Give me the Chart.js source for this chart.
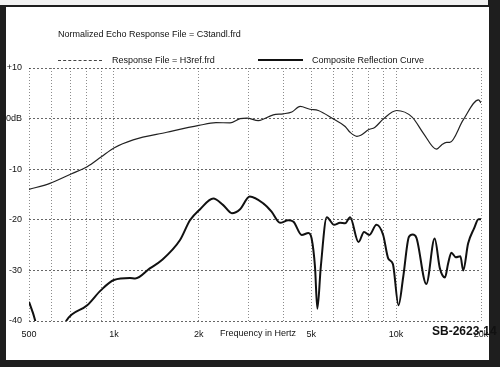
<!DOCTYPE html>
<html>
<head>
<meta charset="utf-8">
<script src="https://cdn.jsdelivr.net/npm/chart.js@4"></script>
<style>
  html, body { margin: 0; padding: 0; }
  body { width: 500px; height: 367px; background: #1e1e1e; position: relative; overflow: hidden; font-family: "Liberation Sans", Arial, sans-serif; }
  #topstrip { position: absolute; left: 0; top: 0; width: 488px; height: 5px; background: #f2f2f2; }
  #panel { position: absolute; left: 6px; top: 7px; width: 483px; height: 353px; background: #fff; }
  #chartwrap { position: absolute; left: 0; top: 0; width: 500px; height: 367px; }
  .txt { position: absolute; font-size: 9px; color: #111; white-space: nowrap; line-height: 10px; }
  .swatch { position: absolute; height: 0; }
</style>
</head>
<body>
<div id="topstrip"></div>
<div id="panel"></div>
<div id="chartwrap"><canvas id="plot" width="500" height="367"></canvas></div>
<div class="txt" style="left:58px; top:29px;">Normalized Echo Response File = C3tandl.frd</div>
<div class="swatch" style="left:58px; top:60px; width:44px; border-top:1px dashed #444;"></div>
<div class="txt" style="left:112px; top:55px;">Response File = H3ref.frd</div>
<div class="swatch" style="left:258px; top:59px; width:45px; border-top:2px solid #111;"></div>
<div class="txt" style="left:312px; top:55px;">Composite Reflection Curve</div>
<div class="txt" style="left:220px; top:328px;">Frequency in Hertz</div>
<div class="txt" style="left:432px; top:325px; font-size:12px; line-height:13px; font-family:'Liberation Sans Narrow', 'Liberation Sans', sans-serif; font-weight:bold;">SB-2623-14</div>
<script>
// Response File = H3ref.frd (thin line)
const responseFreq = [500, 593, 708, 804, 900, 1000, 1170, 1540, 2000, 2300, 2580, 2800, 2960, 3250, 3670, 3980, 4270, 4570, 4950, 5300, 6000, 6600, 6870, 7260, 7500, 7980, 8400, 9000, 10050, 11400, 12500, 13900, 14500, 15100, 15500, 17300, 19600, 20000];
const responseDb = [-14, -12.8, -10.9, -9.5, -7.6, -5.8, -4.2, -2.7, -1.35, -0.8, -0.85, 0, 0.1, -0.4, 0.75, 0.95, 1.3, 2.4, 1.85, 1.6, -0.1, -1.55, -2.7, -3.5, -3.3, -2.2, -1.75, -0.1, 1.6, 0.3, -2.9, -6.05, -5.2, -4.7, -4.7, -0.25, 3.7, 3.1];

// Composite Reflection Curve (thick line)
const compositeFreq = [500, 517, 540, 600, 650, 679, 804, 900, 1000, 1140, 1190, 1340, 1476, 1715, 1860, 2020, 2250, 2440, 2620, 2800, 3030, 3390, 3620, 3880, 4150, 4330, 4630, 4890, 5020, 5160, 5260, 5410, 5680, 6030, 6330, 6600, 6870, 7360, 7700, 8040, 8520, 9000, 9390, 9740, 10200, 10600, 11100, 11450, 11800, 12800, 13700, 14300, 14900, 15300, 15700, 16300, 16900, 17300, 18000, 18900, 19600, 20000];
const compositeDb = [-36.2, -38.5, -42, -45, -42.5, -39.9, -36.9, -33.9, -31.9, -31.5, -31.6, -29.6, -28, -24, -20.1, -17.9, -15.8, -17.1, -18.7, -17.9, -15.4, -16.8, -18.4, -20.6, -20.1, -20.4, -23, -22.6, -23.7, -29.3, -37.6, -29.3, -19.5, -21, -20.6, -20.7, -19.5, -24.4, -22.4, -23, -21, -23, -27.7, -28.7, -36.9, -31.3, -23.4, -22.9, -23.5, -32.7, -23.7, -29.6, -31.4, -28.6, -26.5, -27.4, -27.2, -30, -24.7, -21.7, -19.9, -19.9];

// axis ticks
const gridFreqs = [500, 600, 700, 800, 900, 1000, 2000, 3000, 4000, 5000, 6000, 7000, 8000, 9000, 10000, 20000];
const freqLabels = {500: '500', 1000: '1k', 2000: '2k', 5000: '5k', 10000: '10k', 20000: '20k'};
const dbLabels = {10: '+10', 0: '0dB', '-10': '-10', '-20': '-20', '-30': '-30', '-40': '-40'};

function points(xs, ys) {
  return xs.map((x, i) => ({x: x, y: ys[i]}));
}

const FONT = {family: "'Liberation Sans', Arial, sans-serif", size: 9};

const config = {
  type: 'line',
  data: {
    datasets: [
      {
        label: 'Response File = H3ref.frd',
        data: points(responseFreq, responseDb),
        borderColor: '#222',
        borderWidth: 1.2,
        pointRadius: 0,
        cubicInterpolationMode: 'monotone',
        clip: 0,
      },
      {
        label: 'Composite Reflection Curve',
        data: points(compositeFreq, compositeDb),
        borderColor: '#111',
        borderWidth: 2,
        pointRadius: 0,
        cubicInterpolationMode: 'monotone',
        clip: 0,
      },
    ]
  },
  options: {
    responsive: false,
    animation: false,
    events: [],
    layout: { padding: { top: 68, right: 19, left: 0, bottom: 0 } },
    plugins: {
      legend: { display: false },
      title: { display: false },
      tooltip: { enabled: false },
    },
    scales: {
      x: {
        type: 'logarithmic',
        min: 500,
        max: 20000,
        border: { display: false, dash: [1, 2] },
        afterBuildTicks: (scale) => { scale.ticks = gridFreqs.map(v => ({value: v})); },
        afterFit: (scale) => { scale.height = 46; },
        grid: { color: 'rgba(0,0,0,0.45)', lineWidth: 1, drawTicks: false },
        ticks: {
          autoSkip: false,
          maxRotation: 0,
          padding: 8,
          color: '#111',
          font: FONT,
          callback: (value) => freqLabels[value] || '',
        }
      },
      y: {
        min: -40,
        max: 10,
        border: { display: false, dash: [2, 2] },
        afterFit: (scale) => { scale.width = 29; },
        grid: { color: 'rgba(0,0,0,0.6)', lineWidth: 1, drawTicks: false },
        ticks: {
          stepSize: 10,
          padding: 7,
          color: '#111',
          font: FONT,
          callback: (value) => dbLabels[value] || '',
        }
      }
    }
  }
};

var ctx = document.getElementById('plot');
chart = new Chart(ctx, config);
</script>
</body>
</html>
